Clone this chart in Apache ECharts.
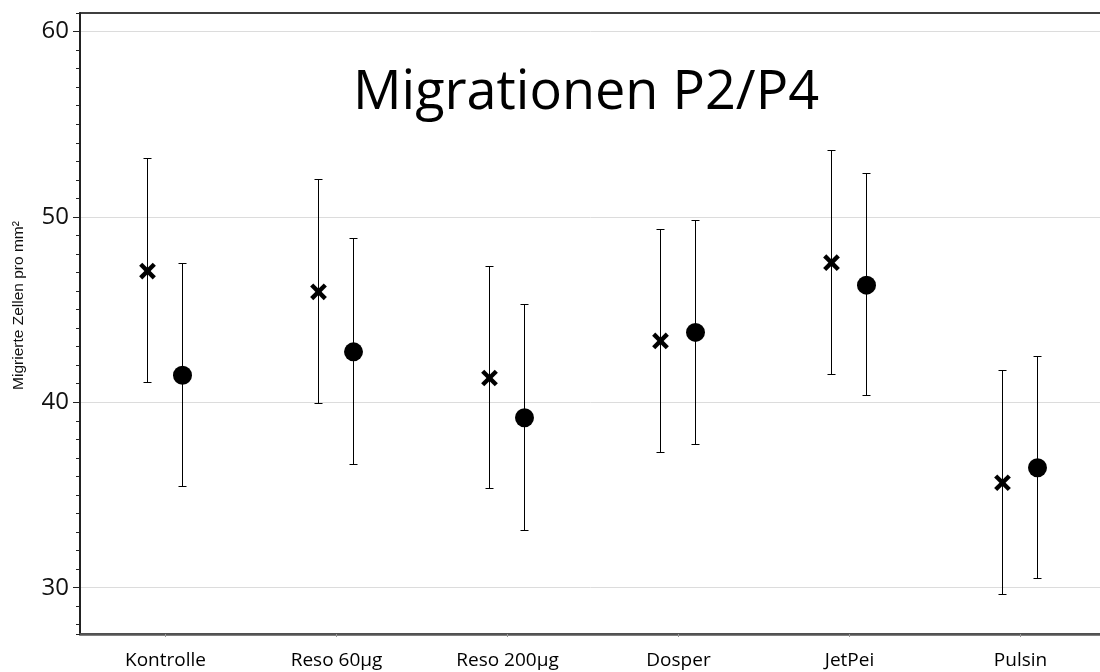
<!DOCTYPE html>
<html>
<head>
<meta charset="utf-8">
<script src="https://cdn.jsdelivr.net/npm/echarts@6/dist/echarts.min.js"></script>
<style>
html,body{margin:0;padding:0;background:#fff;}
#chart{width:1100px;height:672px;}
</style>
</head>
<body>
<div id="chart"></div>
<script>
const categories = ['Kontrolle', 'Reso 60µg', 'Reso 200µg', 'Dosper', 'JetPei', 'Pulsin'];
const crossMean = [47.08, 45.96, 41.31, 43.31, 47.53, 35.66];
const crossLow  = [41.05, 39.93, 35.34, 37.31, 41.51, 29.64];
const crossHigh = [53.14, 52.00, 47.31, 49.31, 53.58, 41.71];
const dotMean = [41.46, 42.72, 39.17, 43.77, 46.32, 36.47];
const dotLow  = [35.48, 36.65, 33.08, 37.73, 40.34, 30.47];
const dotHigh = [47.46, 48.83, 45.26, 49.80, 52.34, 42.47];
const yMin = 27.5;
const yMax = 61;
const yMajorStep = 10;
const yMinorStep = 1;
const titleText = 'Migrationen P2/P4';
const yAxisName = 'Migrierte Zellen pro mm²';

function crisp(v) { return Math.round(v - 0.5) + 0.5; }

function makeRender(kind, shift) {
  return function (params, api) {
    const i = api.value(0);
    const p = api.coord([i, api.value(1)]);
    const lo = api.coord([i, api.value(2)]);
    const hi = api.coord([i, api.value(3)]);
    const band = api.size([1, 0])[0];
    const x = crisp(p[0] + shift * band);
    const yh = crisp(hi[1]);
    const yl = crisp(lo[1]);
    const st = { stroke: '#000', lineWidth: 1 };
    const children = [
      { type: 'line', shape: { x1: x, y1: yh, x2: x, y2: yl }, style: st },
      { type: 'line', shape: { x1: x - 4, y1: yh, x2: x + 4, y2: yh }, style: st },
      { type: 'line', shape: { x1: x - 4, y1: yl, x2: x + 4, y2: yl }, style: st }
    ];
    const cy = p[1];
    if (kind === 'cross') {
      const h = 6.8;
      const cs = { stroke: '#000', lineWidth: 4.4, lineCap: 'butt' };
      children.push({ type: 'line', shape: { x1: x - h, y1: cy - h, x2: x + h, y2: cy + h }, style: cs });
      children.push({ type: 'line', shape: { x1: x - h, y1: cy + h, x2: x + h, y2: cy - h }, style: cs });
    } else {
      children.push({ type: 'circle', shape: { cx: x, cy: cy, r: 9.5 }, style: { fill: '#000' } });
    }
    return { type: 'group', children: children };
  };
}

const crossData = categories.map((c, i) => [i, crossMean[i], crossLow[i], crossHigh[i]]);
const dotData = categories.map((c, i) => [i, dotMean[i], dotLow[i], dotHigh[i]]);

const chart = echarts.init(document.getElementById('chart'), null, { renderer: 'canvas' });
chart.setOption({
  animation: false,
  backgroundColor: '#fff',
  title: {
    text: titleText,
    left: 581,
    top: 62,
    textAlign: 'center',
    textStyle: { fontFamily: 'Open Sans', fontSize: 54, fontWeight: 'normal', color: '#000' }
  },
  grid: {
    left: 80, top: 13, width: 1026, bottom: 38,
    show: true, borderColor: '#000', borderWidth: 1.5, backgroundColor: 'transparent',
    containLabel: false, outerBoundsMode: 'none'
  },
  xAxis: {
    type: 'category',
    data: categories,
    boundaryGap: true,
    axisLine: { show: true, lineStyle: { color: '#555', width: 2.5 } },
    axisTick: { show: true, alignWithLabel: true, length: 3, lineStyle: { color: '#999' } },
    axisLabel: { interval: 0, margin: 17, color: '#000', fontFamily: 'Open Sans', fontSize: 19 },
    splitLine: { show: false }
  },
  yAxis: [
    {
      type: 'value',
      position: 'left',
      min: yMin, max: yMax,
      splitNumber: 3,
      minInterval: yMajorStep, maxInterval: yMajorStep,
      name: yAxisName,
      nameLocation: 'middle',
      nameRotate: 90,
      nameGap: 53,
      nameTextStyle: { fontFamily: 'Liberation Sans', fontSize: 15.5, color: '#111', padding: [0, 0, 0, 36] },
      axisLine: { show: true, lineStyle: { color: '#222', width: 2 } },
      axisTick: { show: true, length: 7, lineStyle: { color: '#222' } },
      axisLabel: {
        margin: 11, color: '#111', fontFamily: 'Open Sans', fontSize: 24,
        showMinLabel: false, showMaxLabel: false,
        formatter: function (v) { return (v % yMajorStep === 0) ? String(v) : ''; }
      },
      splitLine: { show: true, showMinLine: false, showMaxLine: false, lineStyle: { color: '#dcdcdc', width: 1 } }
    },
    {
      type: 'value',
      position: 'left',
      min: yMin, max: yMax,
      splitNumber: 40,
      minInterval: yMinorStep, maxInterval: yMinorStep,
      axisLine: { show: false },
      axisTick: { show: true, length: 4, lineStyle: { color: '#222' } },
      axisLabel: { show: false },
      splitLine: { show: false }
    }
  ],
  series: [
    {
      name: 'P2', type: 'custom', data: crossData,
      encode: { x: 0, y: 1 },
      renderItem: makeRender('cross', -0.103)
    },
    {
      name: 'P4', type: 'custom', data: dotData,
      encode: { x: 0, y: 1 },
      renderItem: makeRender('dot', 0.098)
    }
  ]
});
</script>
</body>
</html>
